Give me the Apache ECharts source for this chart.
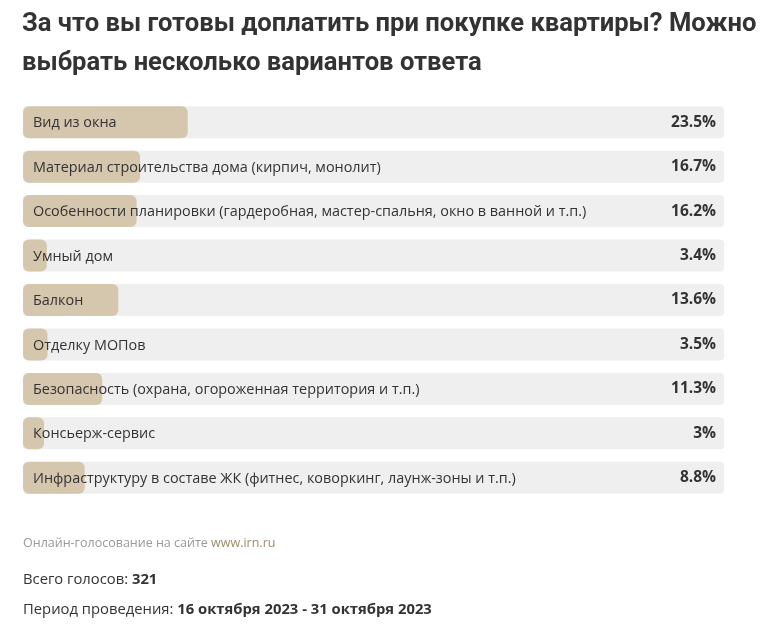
<!DOCTYPE html>
<html><head><meta charset="utf-8">
<script src="https://cdn.jsdelivr.net/npm/echarts@6/dist/echarts.min.js"></script>
<style>html,body{margin:0;padding:0;background:#fff}#c{width:769px;height:629px}</style>
</head><body><div id="c"></div>
<script>
var categories = [
  "Вид из окна",
  "Материал строительства дома (кирпич, монолит)",
  "Особенности планировки (гардеробная, мастер-спальня, окно в ванной и т.п.)",
  "Умный дом",
  "Балкон",
  "Отделку МОПов",
  "Безопасность (охрана, огороженная территория и т.п.)",
  "Консьерж-сервис",
  "Инфраструктуру в составе ЖК (фитнес, коворкинг, лаунж-зоны и т.п.)"
];
var values = [23.5, 16.7, 16.2, 3.4, 13.6, 3.5, 11.3, 3, 8.8];
var titleText = "За что вы готовы доплатить при покупке квартиры? Можно\nвыбрать несколько вариантов ответа";
var totalVotes = 321;
var period = "16 октября 2023 - 31 октября 2023";

var bodyFont = "'Open Sans', 'Noto Sans', sans-serif";
var chart = echarts.init(document.getElementById('c'), null, {renderer: 'canvas'});
chart.setOption({
  backgroundColor: '#fff',
  animation: false,
  title: [
    {text: titleText, left: 22, top: 5, padding: 0,
     textStyle: {fontFamily: "Roboto, sans-serif", fontWeight: 'bold', fontSize: 25.6, lineHeight: 39, color: '#333'}},
    {text: '{a|Онлайн-голосование на сайте }{b|www.irn.ru}', left: 23, top: 537, padding: 0,
     textStyle: {fontWeight: 'normal', rich: {a: {fontFamily: bodyFont, fontSize: 12.5, fontWeight: 'normal', color: '#999'}, b: {fontFamily: bodyFont, fontSize: 12.5, fontWeight: 'normal', color: '#a08a6a'}}}},
    {text: '{a|Всего голосов: }{b|' + totalVotes + '}', left: 23, top: 572, padding: 0,
     textStyle: {fontWeight: 'normal', rich: {a: {fontFamily: bodyFont, fontSize: 14.8, fontWeight: 'normal', color: '#333'}, b: {fontFamily: bodyFont, fontSize: 14.8, fontWeight: 'bold', color: '#333'}}}},
    {text: '{a|Период проведения: }{b|' + period + '}', left: 23, top: 602, padding: 0,
     textStyle: {fontWeight: 'normal', rich: {a: {fontFamily: bodyFont, fontSize: 14.8, fontWeight: 'normal', color: '#333'}, b: {fontFamily: bodyFont, fontSize: 14.8, fontWeight: 'bold', color: '#333'}}}}
  ],
  grid: {left: 23, right: 45, top: 100, height: 400, containLabel: false},
  xAxis: {type: 'value', min: 0, max: 100, show: false},
  yAxis: [
    {type: 'category', data: categories, inverse: true, show: false},
    {type: 'category', data: values.map(function(v){return v + '%';}), inverse: true, position: 'right',
     z: 10, axisLine: {show: false}, axisTick: {show: false},
     axisLabel: {inside: true, margin: 8, padding: [2, 0, 0, 0], fontFamily: bodyFont, fontSize: 15.5, fontWeight: 'bold', color: '#333'}}
  ],
  series: [{
    type: 'bar', data: values, yAxisIndex: 0, barWidth: 32,
    showBackground: true,
    backgroundStyle: {color: '#efefef', borderRadius: 4},
    itemStyle: {color: '#d5c6ae', borderRadius: 6},
    label: {show: true, position: [10, 17], verticalAlign: 'middle', align: 'left',
      fontFamily: bodyFont, fontSize: 14.4, color: '#333',
      formatter: function(p){return categories[p.dataIndex];}}
  }]
});
</script></body></html>
